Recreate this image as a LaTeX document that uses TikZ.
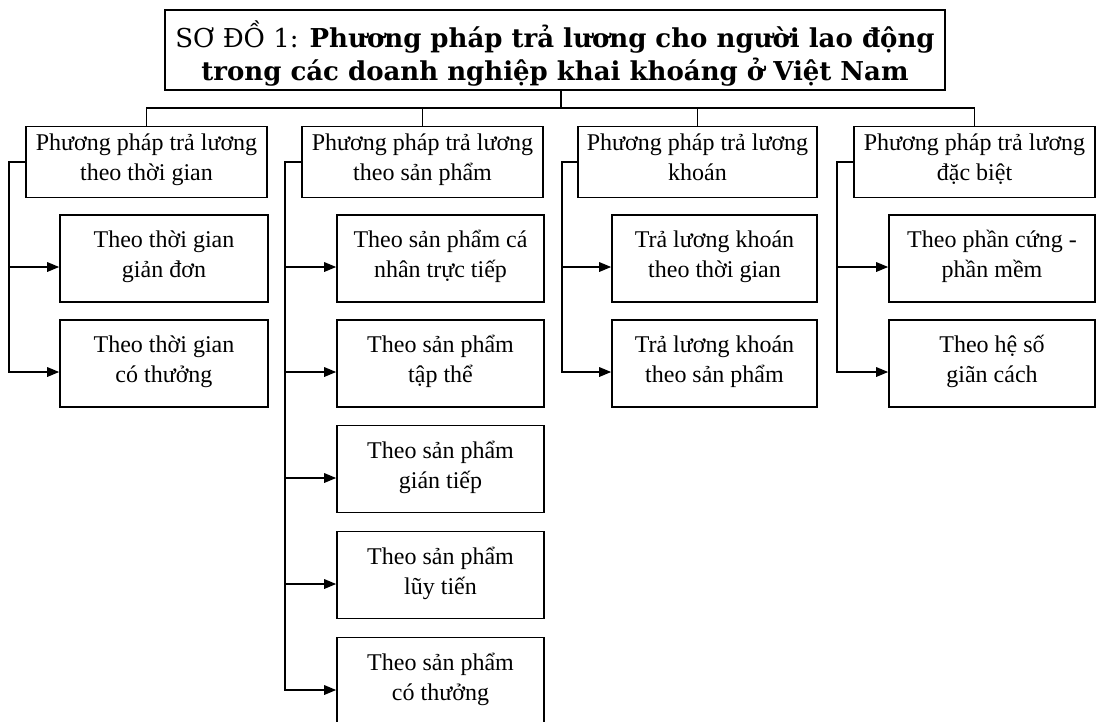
\documentclass[tikz,border=0pt]{standalone}
\usepackage{fontspec}
\setmainfont{Liberation Serif}
\newfontfamily\titlefont{DejaVu Serif}
\usetikzlibrary{arrows.meta}
\begin{document}
\begin{tikzpicture}[x=1pt,y=-1pt,line width=1.6pt,
  box/.style={draw,rectangle,inner sep=0pt,align=center,font=\fontsize{24}{30}\selectfont,
    execute at begin node=\strut,execute at end node=\strut},
  topbox/.style={box,minimum height=71pt},
  subbox/.style={box,minimum height=87pt},
  arr/.style={-{Triangle[length=12pt,width=9.5pt]}}]
\useasboundingbox (0,0) rectangle (1098,721);
% title
\node[draw,rectangle,minimum width=780pt,minimum height=80pt] (title) at (555,50) {};
\node[align=center,inner sep=0pt,font=\titlefont\fontsize{26}{33}\selectfont] (titletext) at (555,54)
  {SƠ ĐỒ 1: \textbf{Phương pháp trả lương cho người lao động}\\\textbf{trong các doanh nghiệp khai khoáng ở Việt Nam}};
% level 1
\node[topbox,minimum width=241pt] (p1) at (146.5,162) {Phương pháp trả lương\\theo thời gian};
\node[topbox,minimum width=241pt] (p2) at (422.5,162) {Phương pháp trả lương\\theo sản phẩm};
\node[topbox,minimum width=239pt] (p3) at (697.5,162) {Phương pháp trả lương\\khoán};
\node[topbox,minimum width=241pt] (p4) at (974.5,162) {Phương pháp trả lương\\đặc biệt};
% level 2
\node[subbox,minimum width=208pt] (c11) at (164,258.5) {Theo thời gian\\giản đơn};
\node[subbox,minimum width=208pt] (c12) at (164,363.5) {Theo thời gian\\có thưởng};
\node[subbox,minimum width=207pt] (c21) at (440.5,258.5) {Theo sản phẩm cá\\nhân trực tiếp};
\node[subbox,minimum width=207pt] (c22) at (440.5,363.5) {Theo sản phẩm\\tập thể};
\node[subbox,minimum width=207pt] (c23) at (440.5,469) {Theo sản phẩm\\gián tiếp};
\node[subbox,minimum width=207pt] (c24) at (440.5,575) {Theo sản phẩm\\lũy tiến};
\node[subbox,minimum width=207pt] (c25) at (440.5,681) {Theo sản phẩm\\có thưởng};
\node[subbox,minimum width=205pt] (c31) at (714.5,258.5) {Trả lương khoán\\theo thời gian};
\node[subbox,minimum width=205pt] (c32) at (714.5,363.5) {Trả lương khoán\\theo sản phẩm};
\node[subbox,minimum width=206pt] (c41) at (992,258.5) {Theo phần cứng -\\phần mềm};
\node[subbox,minimum width=206pt] (c42) at (992,363.5) {Theo hệ số\\giãn cách};
% bus
\coordinate (bus) at (561,108);
\draw (bus |- title.south) -- (bus);
\draw (p1.north) |- (bus) -| (p4.north);
\draw (p2.north) -- (p2.north |- bus);
\draw (p3.north) -- (p3.north |- bus);
% feeders
\coordinate (a11) at (9,267);   \coordinate (a12) at (9,372);
\coordinate (a21) at (285,267); \coordinate (a22) at (285,372); \coordinate (a23) at (285,478);
\coordinate (a24) at (285,584); \coordinate (a25) at (285,690);
\coordinate (a31) at (562,267); \coordinate (a32) at (562,372);
\coordinate (a41) at (837,267); \coordinate (a42) at (837,372);
\draw[arr] (p1.west) -| (a12) -- (a12 -| c12.west);
\draw[arr] (a11) -- (a11 -| c11.west);
\draw[arr] (p2.west) -| (a25) -- (a25 -| c25.west);
\draw[arr] (a21) -- (a21 -| c21.west);
\draw[arr] (a22) -- (a22 -| c22.west);
\draw[arr] (a23) -- (a23 -| c23.west);
\draw[arr] (a24) -- (a24 -| c24.west);
\draw[arr] (p3.west) -| (a32) -- (a32 -| c32.west);
\draw[arr] (a31) -- (a31 -| c31.west);
\draw[arr] (p4.west) -| (a42) -- (a42 -| c42.west);
\draw[arr] (a41) -- (a41 -| c41.west);
\end{tikzpicture}
\end{document}
